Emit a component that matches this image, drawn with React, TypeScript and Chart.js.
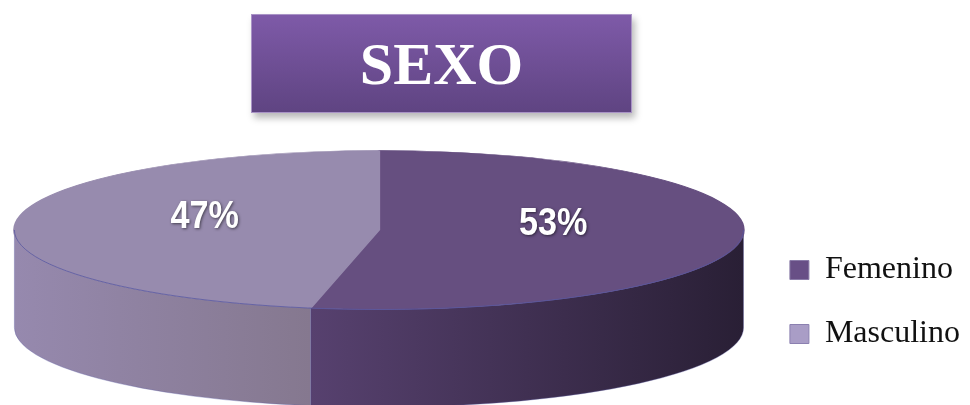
import React, { useEffect, useRef } from 'react';
import { Chart, registerables } from 'chart.js';

Chart.register(...registerables);

// ---- data ----
const categories = ['Femenino', 'Masculino'];
const values = [53, 47];
const valueLabels = ['53%', '47%'];
const titleText = 'SEXO';

// ---- style ----
const topColors = ['#664F80', '#978BAE'];
const sideLeftColors = ['#57416F', '#9689AE'];
const sideRightColors = ['#291F35', '#85788F'];
const legendFill = ['#684F86', '#A99DC6'];
const legendStroke = ['#8A7BA8', '#8B80B0'];

const RX_FRAC = 0.962; // fraction of half the chart-area width used as ellipse x-radius
const TILT = 0.218; // ry / rx
const DEPTH_FRAC = 0.268; // side depth / rx
const LABEL_R = 0.48;
const LABEL_DY = -9;

function frontIntervals(s: number, e: number): [number, number][] {
  const out: [number, number][] = [];
  for (let k = -1; k <= 1; k++) {
    const a = Math.max(s, k * 2 * Math.PI);
    const b = Math.min(e, k * 2 * Math.PI + Math.PI);
    if (b > a) out.push([a, b]);
  }
  return out;
}

function geometry(chart: any) {
  const meta = chart.getDatasetMeta(0);
  const arcs = meta.data as any[];
  if (!arcs.length) return null;
  const p = arcs[0].getProps(['x', 'y', 'outerRadius'], true);
  const area = chart.chartArea;
  const rx = ((area.right - area.left) / 2) * RX_FRAC;
  const ry = rx * TILT;
  const depth = rx * DEPTH_FRAC;
  return { arcs, cx: p.x, cy: p.y, r0: p.outerRadius, rx, ry, depth };
}

const pie3d = {
  id: 'pie3d',
  beforeDatasetsDraw(chart: any) {
    const g = geometry(chart);
    const ctx = chart.ctx as CanvasRenderingContext2D;
    ctx.save();
    if (!g) return;
    const { arcs, cx, cy, rx, ry, depth, r0 } = g;
    arcs.forEach((arc: any, i: number) => {
      const { startAngle, endAngle } = arc.getProps(['startAngle', 'endAngle'], true);
      frontIntervals(startAngle, endAngle).forEach(([a, b]) => {
        ctx.beginPath();
        ctx.ellipse(cx, cy, rx, ry, 0, a, b, false);
        ctx.lineTo(cx + rx * Math.cos(b), cy + ry * Math.sin(b) + depth);
        ctx.ellipse(cx, cy + depth, rx, ry, 0, b, a, true);
        ctx.closePath();
        const xa = cx + rx * Math.cos(a);
        const xb = cx + rx * Math.cos(b);
        const grad = ctx.createLinearGradient(Math.min(xa, xb), 0, Math.max(xa, xb), 0);
        grad.addColorStop(0, sideLeftColors[i]);
        grad.addColorStop(1, sideRightColors[i]);
        ctx.fillStyle = grad;
        ctx.fill();
        ctx.lineWidth = 1;
        ctx.strokeStyle = 'rgba(95,95,165,0.35)';
        ctx.stroke();
      });
    });
    // squash the circular pie into the top ellipse
    ctx.translate(cx, cy);
    ctx.scale(rx / r0, ry / r0);
    ctx.translate(-cx, -cy);
  },
  afterDatasetsDraw(chart: any) {
    const ctx = chart.ctx as CanvasRenderingContext2D;
    ctx.restore();
    const g = geometry(chart);
    if (!g) return;
    const { arcs, cx, cy, rx, ry } = g;
    // front rim line
    ctx.save();
    ctx.beginPath();
    ctx.ellipse(cx, cy, rx, ry, 0, 0, Math.PI, false);
    ctx.lineWidth = 1;
    ctx.strokeStyle = 'rgba(85,85,160,0.75)';
    ctx.stroke();
    ctx.restore();
    // value labels
    arcs.forEach((arc: any, i: number) => {
      const { startAngle, endAngle } = arc.getProps(['startAngle', 'endAngle'], true);
      const mid = (startAngle + endAngle) / 2;
      const lx = cx + rx * LABEL_R * Math.cos(mid);
      const ly = cy + ry * LABEL_R * Math.sin(mid) + LABEL_DY;
      ctx.save();
      ctx.translate(lx, ly);
      ctx.scale(0.9, 1);
      ctx.font = "bold 38px 'Liberation Sans', Arial, sans-serif";
      ctx.textAlign = 'center';
      ctx.textBaseline = 'middle';
      ctx.shadowColor = 'rgba(0,0,0,0.55)';
      ctx.shadowBlur = 3;
      ctx.shadowOffsetX = 1;
      ctx.shadowOffsetY = 1;
      ctx.fillStyle = '#FFFFFF';
      ctx.fillText(valueLabels[i], 0, 0);
      ctx.restore();
    });
  },
};

export default function App() {
  const ref = useRef<HTMLCanvasElement | null>(null);
  useEffect(() => {
    if (!ref.current) return;
    const chart = new Chart(ref.current, {
      type: 'pie',
      data: {
        labels: categories,
        datasets: [
          {
            data: values,
            backgroundColor: topColors,
            borderColor: topColors,
            borderWidth: 1,
            hoverOffset: 0,
          },
        ],
      },
      options: {
        responsive: false,
        animation: false,
        events: [],
        layout: { padding: { left: -5, right: 0, top: 78, bottom: 23 } },
        plugins: {
          tooltip: { enabled: false },
          title: { display: false },
          legend: {
            display: true,
            position: 'right',
            align: 'end',
            labels: {
              boxWidth: 19,
              boxHeight: 19,
              padding: 32,
              color: '#111111',
              font: { family: "'Liberation Serif', 'Times New Roman', serif", size: 32 },
              generateLabels: () =>
                categories.map((c, i) => ({
                  text: c,
                  fillStyle: legendFill[i],
                  strokeStyle: legendStroke[i],
                  lineWidth: 1,
                  hidden: false,
                  index: i,
                  fontColor: '#111111',
                })),
            },
          },
        },
      },
      plugins: [pie3d],
    } as any);
    return () => chart.destroy();
  }, []);

  return (
    <div style={{ position: 'absolute', left: 0, top: 0, width: 970, height: 405, background: '#fff' }}>
      <canvas ref={ref} width={970} height={405} style={{ position: 'absolute', left: 0, top: 0 }} />
      <div
        style={{
          position: 'absolute',
          left: 251,
          top: 14,
          width: 381,
          height: 99,
          boxSizing: 'border-box',
          background: 'linear-gradient(#7E5AA8, #5F4482)',
          border: '1px solid #A993C6',
          boxShadow: '3px 5px 7px rgba(0,0,0,0.28)',
          display: 'flex',
          alignItems: 'center',
          justifyContent: 'center',
          color: '#FFFFFF',
          fontFamily: "'Liberation Serif', 'Times New Roman', serif",
          fontWeight: 'bold',
          fontSize: 60,
          lineHeight: 1,
        }}
      >
        {titleText}
      </div>
    </div>
  );
}
